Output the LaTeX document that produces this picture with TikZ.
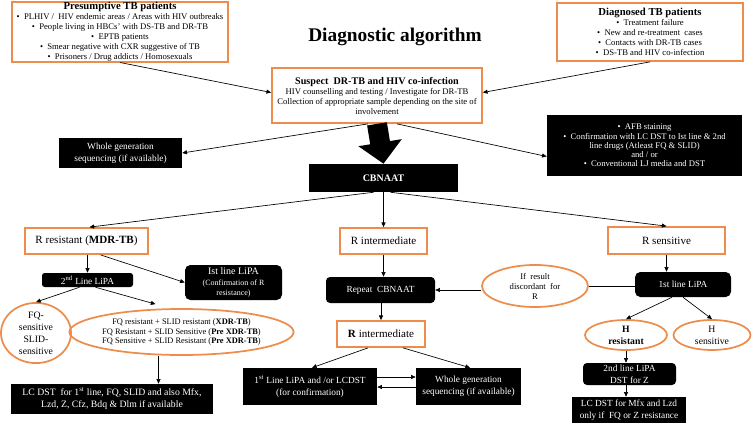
\documentclass[tikz,border=0pt]{standalone}
\usepackage{fontspec}
\setmainfont{Liberation Serif}
\usetikzlibrary{arrows.meta,calc,shapes.geometric}
\definecolor{org}{RGB}{237,140,75}
\begin{document}
\begin{tikzpicture}[x=0.75pt,y=-0.75pt,
 sz/.style 2 args={minimum width=#1*0.75pt,minimum height=#2*0.75pt},
 obox/.style={draw=org,line width=1.3pt,fill=white,inner sep=0pt,align=center},
 bbox/.style={fill=black,text=white,inner sep=0pt,align=center},
 rbox/.style={bbox,rounded corners=3pt},
 oell/.style={ellipse,draw=org,line width=1.3pt,inner sep=0pt,align=center},
 arr/.style={-{Triangle[length=3.5pt,width=3pt]},line width=0.5pt},
 ln/.style={line width=0.5pt},
 body/.style={font=\fontsize{6.5}{7.5}\selectfont},
 bbody/.style={font=\fontsize{7}{9}\selectfont},
 lab/.style={font=\fontsize{8.3}{9.5}\selectfont},
]
\useasboundingbox (0,0) rectangle (753,424);

% top boxes
\node[obox,sz={216}{58},body] (pres) at (120,32) {{\bfseries\fontsize{8}{9}\selectfont Presumptive TB patients}\\
\textbullet\ \ PLHIV /\ \ HIV endemic areas / Areas with HIV outbreaks\\
\textbullet\ \ People living in HBCs' with DS-TB and DR-TB\\
\textbullet\ \ EPTB patients\\
\textbullet\ \ Smear negative with CXR suggestive of TB\\
\textbullet\ \ Prisoners / Drug addicts / Homosexuals};

\node[obox,sz={186}{58},body] (diag) at (650,32) {{\bfseries\fontsize{8}{9}\selectfont Diagnosed TB patients}\\
\textbullet\ \ Treatment failure\\
\textbullet\ \ New and re-treatment\ \ cases\\
\textbullet\ \ Contacts with DR-TB cases\\
\textbullet\ \ DS-TB and HIV co-infection};

\node[font=\bfseries\fontsize{14.5}{17}\selectfont] (title) at (395,37) {Diagnostic algorithm};

\node[obox,sz={210}{55},body] (sus) at (377,95.5) {{\bfseries\fontsize{7.6}{9}\selectfont Suspect\ \ DR-TB and HIV co-infection}\\
HIV counselling and testing / Investigate for DR-TB\\
Collection of appropriate sample depending on the site of\\
involvement};

\node[bbox,sz={123}{30},bbody] (wg1) at (120.5,153) {Whole generation\\sequencing (if available)};

\node[bbox,sz={195}{61},font=\fontsize{6.5}{6.9}\selectfont] (afb) at (644.5,145.5) {\textbullet\ \ AFB staining\\
\textbullet\ \ Confirmation with LC DST to Ist line \& 2nd\\
line drugs (Atleast FQ \& SLID)\\
and / or\\
\textbullet\ \ Conventional LJ media and DST};

\node[bbox,sz={149}{28},font=\bfseries\fontsize{7.5}{9}\selectfont] (cb) at (383.5,178) {CBNAAT};

% second tier
\node[obox,sz={123}{26},lab] (rres) at (86.5,241) {R resistant (\textbf{MDR-TB})};
\node[obox,sz={87}{26},lab] (rint) at (383.5,241) {R intermediate};
\node[obox,sz={117}{27},lab] (rsen) at (666.5,240.5) {R sensitive};

% left branch
\node[bbox,rounded corners=2pt,sz={91}{14},bbody] (lipa2) at (87.5,280) {2\textsuperscript{nd} Line LiPA};
\node[rbox,rounded corners=4pt,sz={97}{35},font=\fontsize{7.5}{8}\selectfont] (lipa1) at (233.5,282.5) {Ist line LiPA\\{\fontsize{6}{7.5}\selectfont (Confirmation of R}\\{\fontsize{6}{7.5}\selectfont resistance)}};
\node[oell,sz={70}{48},font=\fontsize{7.3}{9}\selectfont] (fqs) at (36,333) {FQ-\\sensitive\\SLID-\\sensitive};
\node[oell,sz={199}{46},font=\fontsize{6.3}{7}\selectfont] (big) at (181.5,332) {FQ resistant + SLID resistant (\textbf{XDR-TB})\\
FQ Resistant + SLID Sensitive (\textbf{Pre XDR-TB})\\
FQ Sensitive + SLID Resistant (\textbf{Pre XDR-TB})};
\node[bbox,sz={202}{30},font=\fontsize{7.3}{9}\selectfont] (lcd1) at (112,399) {LC DST\ \ for 1\textsuperscript{st} line, FQ, SLID and also Mfx,\\Lzd, Z, Cfz, Bdq \& Dlm if available};

% middle branch
\node[rbox,sz={109}{26},bbody] (rep) at (380.5,290) {Repeat\ \ CBNAAT};
\node[obox,sz={88}{26},lab] (rint2) at (381,334) {\textbf{R} intermediate};
\node[bbox,sz={134}{37},bbody] (fl) at (310,386.5) {1\textsuperscript{st} Line LiPA and /or LCDST\\(for confirmation)};
\node[bbox,sz={105}{37},bbody] (wg2) at (468.5,386.5) {Whole generation\\sequencing (if available)};

% right branch
\node[oell,sz={106}{42},body] (disc) at (535,286) {If\ \ result\\discordant\ \ for\\R};
\node[rbox,rounded corners=4pt,sz={96}{25},bbody] (lipa1r) at (683,284.5) {1st line LiPA};
\node[oell,sz={82}{30},font=\bfseries\fontsize{7.3}{9}\selectfont] (hres) at (626,335) {H\\resistant};
\node[oell,sz={77}{30},font=\fontsize{7.3}{9}\selectfont] (hsen) at (712,335) {H\\sensitive};
\node[rbox,sz={93}{22},bbody] (lipaz) at (629.5,374) {2nd line LiPA\\DST for Z};
\node[bbox,sz={114}{26},bbody] (lcd2) at (629,410) {LC DST for Mfx and Lzd\\only if\ \ FQ or Z resistance};

% connectors
\draw[arr] (pres.south) -- ($(sus.west)+(0,-3)$);
\draw[arr] (diag.south) -- ($(sus.east)+(0,-3)$);
\draw[line width=15pt,-{Triangle[length=16pt,width=32pt]}] (sus.south) -- (cb.north);
\draw[arr] ($(sus.south)+(-9,0)$) -- (wg1.east);
\draw[arr] ($(sus.south)+(20,0)$) -- ($(afb.west)+(0,11)$);

\draw[arr] ($(cb.south)+(-10,0)$) -- ($(rres.north)+(3,0)$);
\draw[arr] (cb.south) -- (rint.north);
\draw[arr] ($(cb.south)+(7,0)$) -- (rsen.north);

\draw[arr] (lipa2.north |- rres.south) -- (lipa2.north);
\draw[arr] ($(rres.south)+(14,0)$) -- (lipa1.west);
\draw[arr] ($(lipa2.south)+(-8,0)$) -- (fqs.north);
\draw[arr] ($(lipa2.south)+(8,0)$) -- ($(big.north)+(-26,-4)$);
\coordinate (a1) at ($(big.south)+(-23,0)$);
\draw[arr] (a1) -- (a1 |- lcd1.north);

\draw[arr] (rint.south) -- (rint.south |- rep.north);
\draw[arr] (rint2.north |- rep.south) -- (rint2.north);
\draw[ln] (lipa1r.west |- disc.east) -- (disc.east);
\draw[arr] (disc.west |- rep.east) -- (rep.east);
\draw[arr] ($(rint2.south)+(-13,0)$) -- ($(fl.north)+(2,0)$);
\draw[arr] ($(rint2.south)+(22,0)$) -- ($(wg2.north)+(1.5,0)$);
\draw[arr] ($(fl.east)+(0,-9.5)$) -- ($(wg2.west)+(0,-9.5)$);
\draw[arr] ($(wg2.west)+(0,0.5)$) -- ($(fl.east)+(0,0.5)$);

\draw[arr] (rsen.south) -- (rsen.south |- lipa1r.north);
\draw[arr] ($(lipa1r.south)+(-11,0)$) -- (hres.north);
\draw[arr] (lipa1r.south) -- (hsen.north);
\draw[arr] (hres.south) -- (hres.south |- lipaz.north);
\draw[arr] (hres.south |- lipaz.south) -- (hres.south |- lcd2.north);
\end{tikzpicture}
\end{document}
